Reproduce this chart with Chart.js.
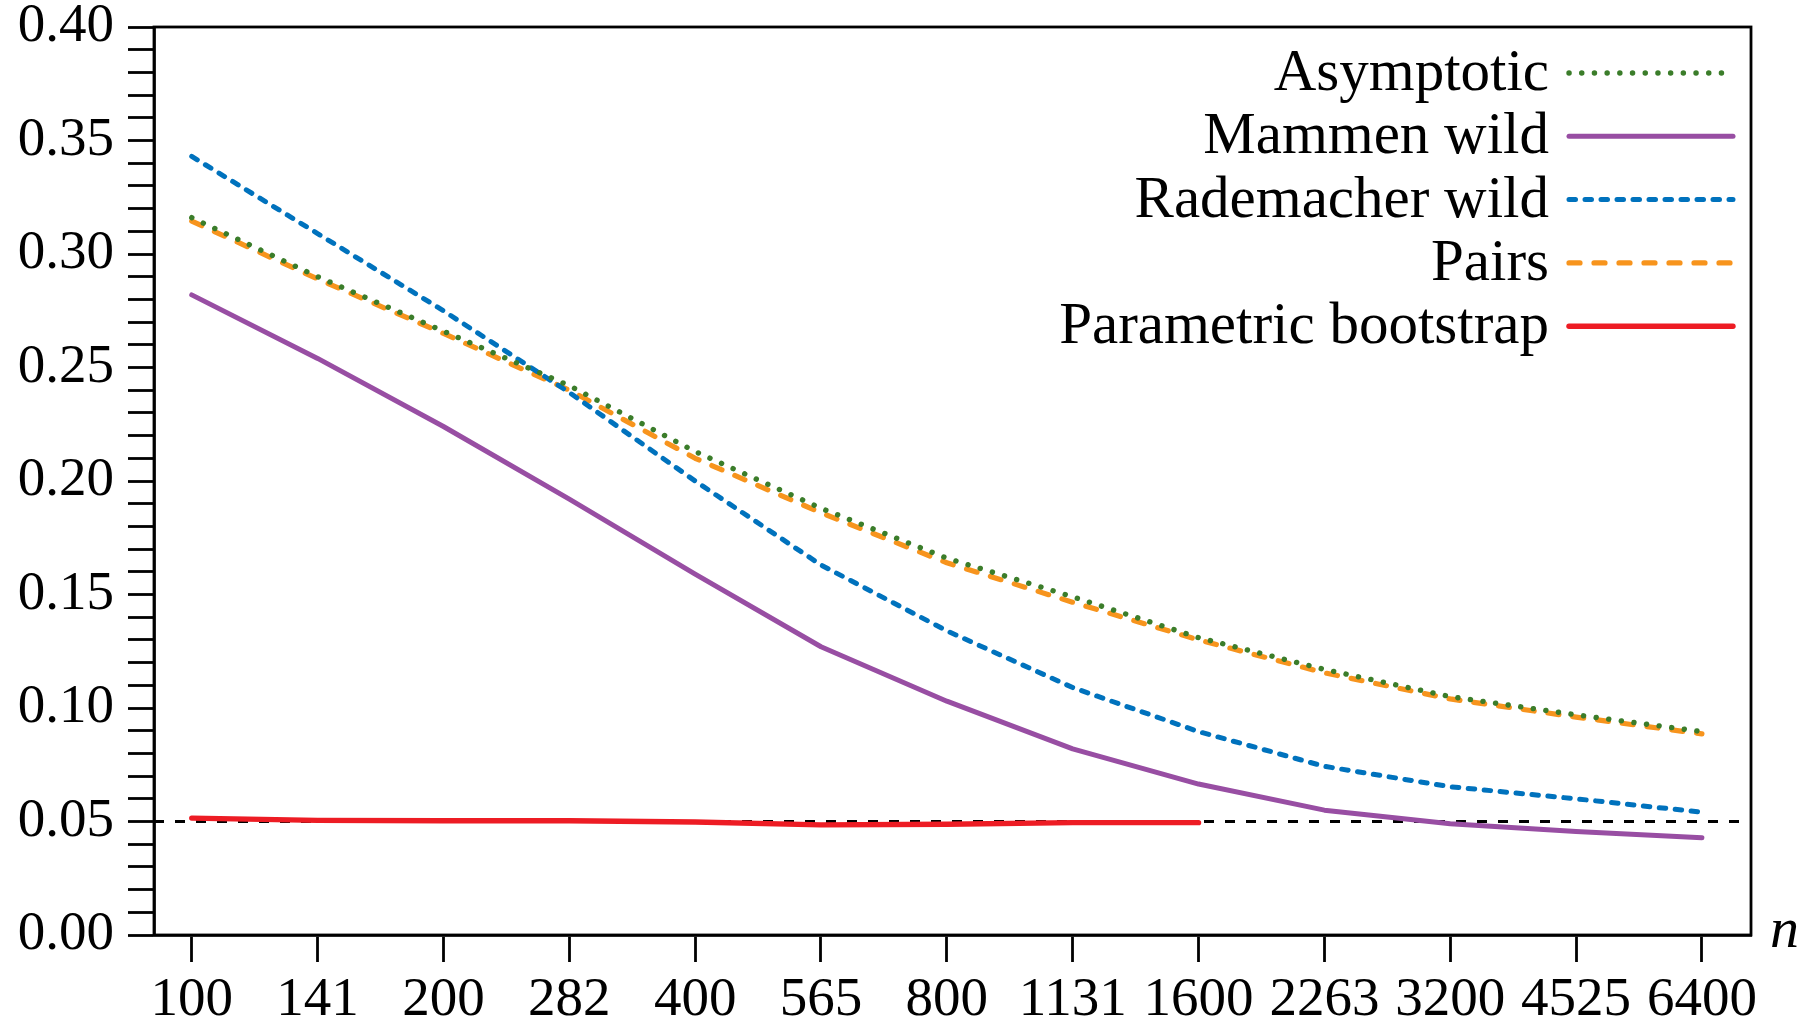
<!DOCTYPE html>
<html>
<head>
<meta charset="utf-8">
<script src="https://cdn.jsdelivr.net/npm/chart.js@4.4.1/dist/chart.umd.min.js"></script>
<style>
  html, body { margin: 0; padding: 0; background: #fff; }
</style>
</head>
<body>
<canvas id="myChart" width="1816" height="1019"></canvas>
<script>
/* globals Chart:false */

// data
const nLabels = ['100', '141', '200', '282', '400', '565', '800', '1131', '1600', '2263', '3200', '4525', '6400']
const asymptotic = [0.316, 0.290, 0.266, 0.242, 0.213, 0.188, 0.166, 0.149, 0.131, 0.117, 0.105, 0.097, 0.0896]
const mammen = [0.282, 0.254, 0.224, 0.192, 0.159, 0.127, 0.103, 0.082, 0.0665, 0.055, 0.049, 0.0456, 0.0428]
const rademacher = [0.343, 0.309, 0.275, 0.239, 0.200, 0.163, 0.134, 0.109, 0.0896, 0.0743, 0.0653, 0.060, 0.0541]
const pairs = [0.3145, 0.289, 0.265, 0.240, 0.210, 0.186, 0.164, 0.1466, 0.130, 0.1155, 0.104, 0.096, 0.0886]
const parametric = [0.0515, 0.0505, 0.0503, 0.0503, 0.0498, 0.0485, 0.0488, 0.0495, 0.0495, null, null, null, null]
const nominal = 0.05

const serif = "'Liberation Serif', 'Times New Roman', serif"

const pts = arr => arr.map((v, i) => ({ x: i, y: v }))

const series = [
  { label: 'Asymptotic', data: asymptotic, color: '#3b7d2a', width: 5.4, dash: [0.1, 12.6] },
  { label: 'Mammen wild', data: mammen, color: '#984ea3', width: 5, dash: [] },
  { label: 'Rademacher wild', data: rademacher, color: '#0072bd', width: 5, dash: [6.5, 9.5] },
  { label: 'Pairs', data: pairs, color: '#f7941d', width: 5.2, dash: [11, 14] },
  { label: 'Parametric bootstrap', data: parametric, color: '#ed1c24', width: 5.4, dash: [] }
]

// dashed reference line at the nominal level
const refLine = {
  id: 'refLine',
  beforeDatasetsDraw (chart) {
    const { ctx, chartArea, scales } = chart
    const y = scales.y.getPixelForValue(nominal)
    ctx.save()
    ctx.strokeStyle = '#000'
    ctx.lineWidth = 2.8
    ctx.setLineDash([10, 11])
    ctx.beginPath()
    ctx.moveTo(chartArea.left, y)
    ctx.lineTo(chartArea.right, y)
    ctx.stroke()
    ctx.restore()
  }
}

// box, legend and axis name
const decor = {
  id: 'decor',
  afterDraw (chart) {
    const { ctx, chartArea } = chart
    ctx.save()
    ctx.strokeStyle = '#000'
    ctx.lineWidth = 2.8
    ctx.setLineDash([])
    ctx.strokeRect(chartArea.left, chartArea.top, chartArea.right - chartArea.left, chartArea.bottom - chartArea.top)

    // legend
    ctx.font = '59px ' + serif
    ctx.textAlign = 'right'
    ctx.textBaseline = 'alphabetic'
    series.forEach((s, i) => {
      const y = 73 + i * 63.3
      ctx.fillStyle = '#000'
      ctx.fillText(s.label, 1549, y + 17)
      ctx.strokeStyle = s.color
      ctx.lineWidth = s.width
      ctx.lineCap = 'round'
      ctx.setLineDash(s.dash)
      ctx.beginPath()
      ctx.moveTo(1569, y)
      ctx.lineTo(1733, y)
      ctx.stroke()
    })

    ctx.setLineDash([])
    ctx.fillStyle = '#000'
    ctx.textAlign = 'left'
    ctx.font = 'italic 58px ' + serif
    ctx.fillText('n', 1770, 947)
    ctx.restore()
  }
}

const ctx2 = document.getElementById('myChart')

// eslint-disable-next-line no-unused-vars
const myChart = new Chart(ctx2, {
  type: 'line',
  data: {
    datasets: series.map(s => ({
      label: s.label,
      data: pts(s.data),
      borderColor: s.color,
      backgroundColor: 'transparent',
      borderWidth: s.width,
      borderDash: s.dash,
      borderCapStyle: 'round',
      borderJoinStyle: 'round',
      pointRadius: 0,
      tension: 0,
      fill: false
    }))
  },
  options: {
    responsive: false,
    animation: false,
    layout: { padding: { top: 27, right: 65, left: 0, bottom: 0 } },
    plugins: {
      legend: { display: false },
      tooltip: { enabled: false }
    },
    scales: {
      x: {
        type: 'linear',
        min: -0.3,
        max: 12.39,
        afterBuildTicks: s => { s.ticks = nLabels.map((_, i) => ({ value: i })) },
        afterFit: s => { s.height = 84; s.paddingLeft = 0; s.paddingRight = 0 },
        ticks: {
          autoSkip: false,
          maxRotation: 0,
          padding: 6,
          color: '#000',
          font: { family: serif, size: 55 },
          callback: v => nLabels[Math.round(v)]
        },
        grid: { drawOnChartArea: false, tickLength: 27, tickWidth: 2.8, tickColor: '#000' },
        border: { color: '#000', width: 2.8 }
      },
      y: {
        min: 0,
        max: 0.4,
        afterFit: s => { s.width = 154; s.paddingTop = 0; s.paddingBottom = 0 },
        ticks: {
          stepSize: 0.01,
          autoSkip: false,
          padding: 14,
          color: '#000',
          font: { family: serif, size: 55 },
          callback: v => (Math.round(v * 100) % 5 === 0 ? v.toFixed(2) : '')
        },
        grid: { drawOnChartArea: false, tickLength: 26, tickWidth: 2.8, tickColor: '#000' },
        border: { color: '#000', width: 2.8 }
      }
    }
  },
  plugins: [refLine, decor]
})
</script>
</body>
</html>
